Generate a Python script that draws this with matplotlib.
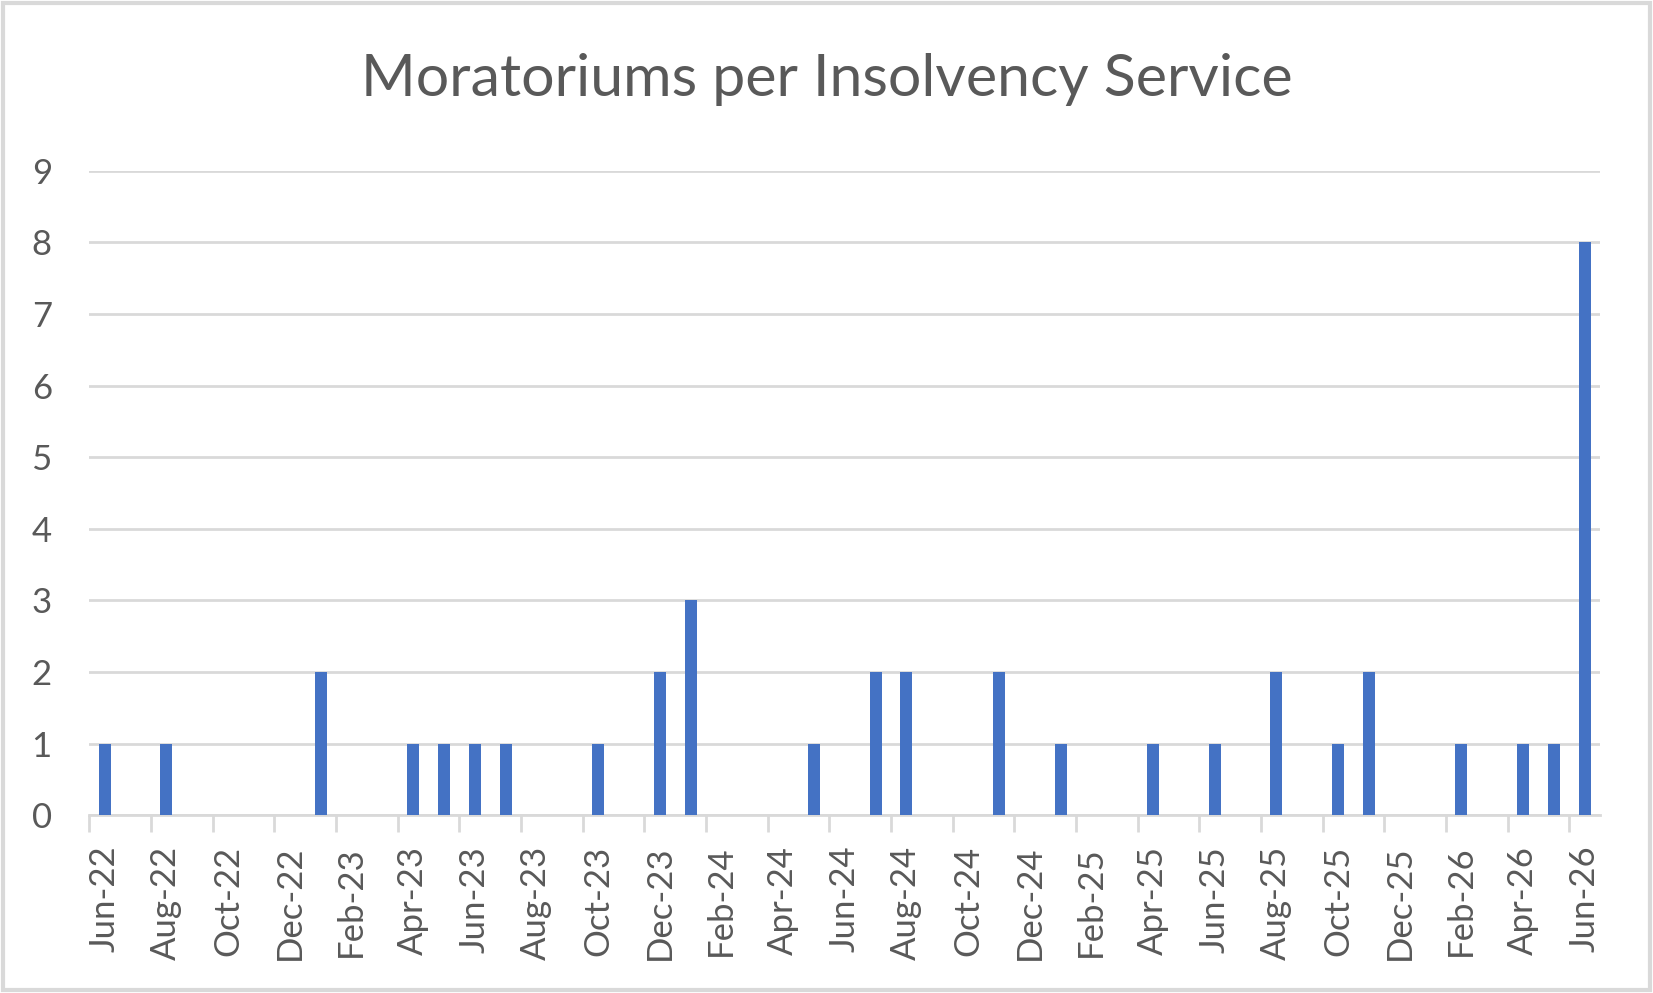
import matplotlib.pyplot as plt
from matplotlib.patches import Rectangle
import numpy as np

# monthly labels Jun-22 .. Jun-26
months = ["Jun", "Jul", "Aug", "Sep", "Oct", "Nov", "Dec", "Jan", "Feb", "Mar", "Apr", "May"]
labels = []
for i in range(49):
    m = months[i % 12]
    yr = 22 + (i + 5) // 12
    labels.append(f"{m}-{yr}")

# moratoriums per month (zero where there's no bar)
counts = [1, 0, 1, 0, 0, 0, 0, 2, 0, 0,
          1, 1, 1, 1, 0, 0, 1, 0, 2, 3,
          0, 0, 0, 1, 0, 2, 2, 0, 0, 2,
          0, 1, 0, 0, 1, 0, 1, 0, 2, 0,
          1, 2, 0, 0, 1, 0, 1, 1, 8]

grey = "#595959"
grid_col = "#d9d9d9"
plt.rcParams['font.family'] = ['Lato', 'DejaVu Sans']

fig = plt.figure(figsize=(16.53, 9.93), dpi=100)
ax = fig.add_axes([0.054, 0.179, 0.914, 0.649])

x = np.arange(len(counts))
ax.bar(x, counts, width=0.39, color="#4472c4", zorder=3)

ax.set_xlim(-0.5, len(counts) - 0.5)
ax.set_ylim(0, 9)
ax.set_yticks(range(10))
ax.yaxis.grid(True, color=grid_col, linewidth=2, zorder=0)

# labels every second month, ticks at the month boundaries
ax.set_xticks(x[::2])
ax.set_xticklabels(labels[::2], rotation=90)
ax.set_xticks(x[::2] - 0.5, minor=True)
ax.tick_params(axis="x", which="major", length=0, pad=22, labelsize=25, labelcolor=grey)
ax.tick_params(axis="x", which="minor", length=12, width=2, color=grid_col)
ax.tick_params(axis="y", length=0, pad=27, labelsize=25, labelcolor=grey)

for s in ["top", "right", "left"]:
    ax.spines[s].set_visible(False)
ax.spines["bottom"].set_color(grid_col)
ax.spines["bottom"].set_linewidth(2)

fig.text(0.5, 0.92, "Moratoriums per Insolvency Service", ha="center", va="center",
         fontsize=42.5, color=grey)

fig.patches.append(Rectangle((0.002, 0.003), 0.996, 0.994, transform=fig.transFigure,
                             fill=False, edgecolor=grid_col, linewidth=3))

fig.savefig("out.png", dpi=100)
